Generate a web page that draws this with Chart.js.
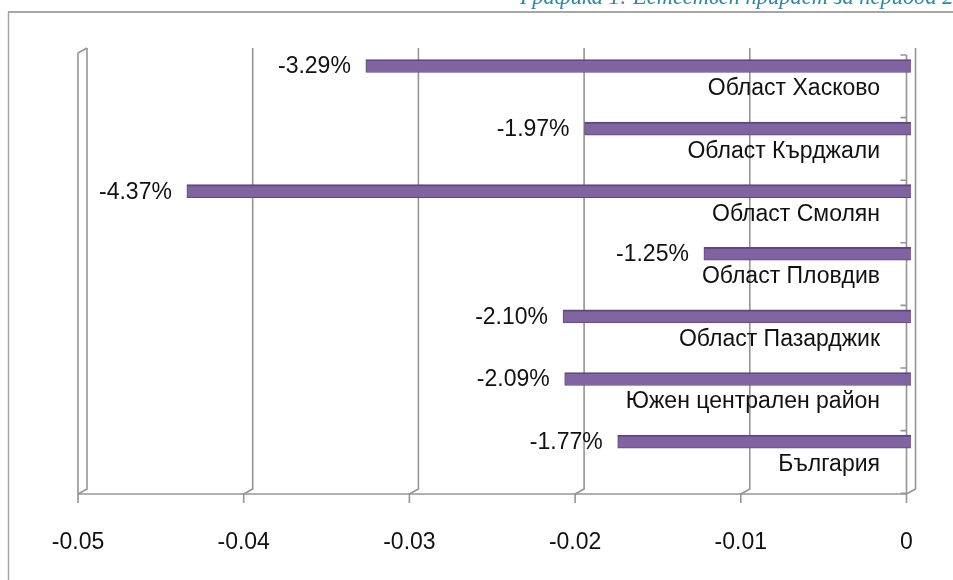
<!DOCTYPE html>
<html>
<head>
<meta charset="utf-8">
<script src="https://cdn.jsdelivr.net/npm/chart.js@4.4.1/dist/chart.umd.min.js"></script>
<style>
  body { margin: 0; background: #fff; overflow: hidden; }
  #wrap { position: relative; width: 953px; height: 580px; overflow: hidden; }
  #title {
    position: absolute; left: 520px; top: -15px; white-space: nowrap;
    font: italic 22.5px "Liberation Serif", "DejaVu Serif", serif; color: #3087a0;
    line-height: 23px;
  }
  canvas { display: block; }
</style>
</head>
<body>
<div id="wrap">
  <div id="title">Графика 1: Естествен прираст за периода 2</div>
  <canvas id="chart" width="953" height="580"></canvas>
</div>
<script>
// data
const regions = ['Област Хасково', 'Област Кърджали', 'Област Смолян', 'Област Пловдив',
                 'Област Пазарджик', 'Южен централен район', 'България'];
const growth = [-0.0329, -0.0197, -0.0437, -0.0125, -0.0210, -0.0209, -0.0177];
const xTicks = [-0.05, -0.04, -0.03, -0.02, -0.01, 0];

Chart.defaults.font.family = "'Liberation Sans', Arial, sans-serif";

const DEPTH_X = 4.5, DEPTH_Y = 5;
const gridColor = '#959595';

// draws the 3D-ish walls, gridlines and the text next to the bars
const excelLook = {
  id: 'excelLook',
  beforeDraw(chart) {
    const ctx = chart.ctx;
    ctx.save();
    ctx.strokeStyle = '#a6a6a6';
    ctx.lineWidth = 2;
    ctx.beginPath();
    ctx.moveTo(8, 12); ctx.lineTo(953, 12);
    ctx.stroke();
    ctx.lineWidth = 1.5;
    ctx.beginPath();
    ctx.moveTo(8.5, 12); ctx.lineTo(8.5, 580);
    ctx.stroke();
    ctx.restore();
  },
  beforeDatasetsDraw(chart) {
    const ctx = chart.ctx, x = chart.scales.x, y = chart.scales.y, area = chart.chartArea;
    const top = area.top, floor = area.bottom;
    ctx.save();
    ctx.strokeStyle = gridColor;
    ctx.lineWidth = 1.6;
    xTicks.forEach(t => {
      const px = x.getPixelForValue(t);
      const back = px + DEPTH_X, front = px - DEPTH_X;
      ctx.beginPath();
      ctx.moveTo(back, top);
      ctx.lineTo(back, floor - DEPTH_Y);
      ctx.lineTo(front, floor);
      ctx.lineTo(front, floor + 9);
      ctx.stroke();
    });
    const left = x.getPixelForValue(xTicks[0]);
    const zero = x.getPixelForValue(0) - DEPTH_X;
    // left wall
    ctx.beginPath();
    ctx.moveTo(left - DEPTH_X, floor);
    ctx.lineTo(left - DEPTH_X, top + DEPTH_Y);
    ctx.lineTo(left + DEPTH_X, top);
    ctx.stroke();
    // floor
    ctx.beginPath();
    ctx.moveTo(left - DEPTH_X, floor);
    ctx.lineTo(zero, floor);
    ctx.stroke();
    // category axis at zero
    ctx.beginPath();
    ctx.moveTo(zero, top + 7);
    ctx.lineTo(zero, floor);
    for (let k = 0; k <= regions.length; k++) {
      const py = y.getPixelForValue(k + y.min) + 7;
      ctx.moveTo(zero - 6, py);
      ctx.lineTo(zero, py);
    }
    ctx.stroke();
    ctx.restore();
  },
  afterDatasetsDraw(chart) {
    const ctx = chart.ctx;
    const bars = chart.getDatasetMeta(0).data;
    ctx.save();
    ctx.fillStyle = '#111';
    ctx.font = "23px 'Liberation Sans', Arial, sans-serif";
    ctx.textBaseline = 'middle';
    ctx.textAlign = 'right';
    bars.forEach((bar, i) => {
      ctx.fillText((growth[i] * 100).toFixed(2) + '%', bar.x - 15, bar.y + 1);
      ctx.fillText(regions[i], 880, bar.y + 23);
    });
    ctx.restore();
  }
};

new Chart(document.getElementById('chart'), {
  type: 'bar',
  data: {
    datasets: [{
      data: growth.map((v, i) => ({ x: v, y: i })),
      backgroundColor: '#8064a2',
      borderColor: '#5f4880',
      borderWidth: { top: 2, bottom: 1, left: 1, right: 1 },
      barThickness: 13
    }]
  },
  options: {
    indexAxis: 'y',
    responsive: false,
    animation: false,
    layout: { padding: { left: 82.5, right: 42, top: 48, bottom: 0 } },
    plugins: { legend: { display: false }, tooltip: { enabled: false } },
    scales: {
      x: {
        type: 'linear',
        min: -0.05,
        max: 0,
        afterBuildTicks: s => { s.ticks = xTicks.map(v => ({ value: v })); },
        afterFit: s => { s.height = 86; },
        grid: { display: false, drawTicks: false },
        border: { display: false },
        ticks: {
          padding: 35,
          labelOffset: -DEPTH_X,
          color: '#111',
          font: { size: 23 },
          maxRotation: 0,
          autoSkip: false,
          callback: v => String(v)
        }
      },
      y: {
        type: 'linear',
        reverse: true,
        offset: false,
        min: -0.2875,
        max: 6.8375,
        display: false
      }
    }
  },
  plugins: [excelLook]
});
</script>
</body>
</html>
